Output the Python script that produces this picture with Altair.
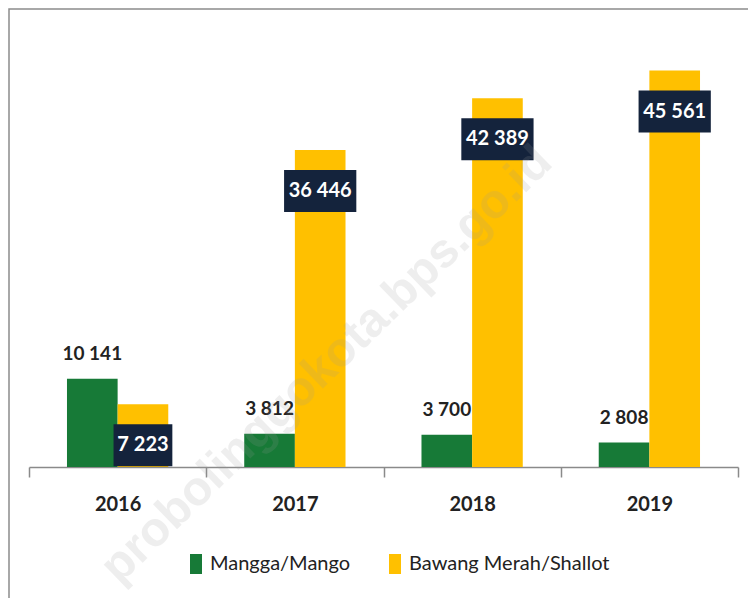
import altair as alt
import pandas as pd

years = ["2016", "2017", "2018", "2019"]
series = ["Mangga/Mango", "Bawang Merah/Shallot"]
mango = [10141, 3812, 3700, 2808]
shallot = [7223, 36446, 42389, 45561]
colors = ["#177A37", "#FFC000"]
watermark = "probolinggokota.bps.go.id"

rows = []
for y, m, s in zip(years, mango, shallot):
    rows.append({"year": y, "series": series[0], "value": m, "label": f"{m:,}".replace(",", " ")})
    rows.append({"year": y, "series": series[1], "value": s, "label": f"{s:,}".replace(",", " ")})
df = pd.DataFrame(rows)

FONT = "Lato, sans-serif"
W, H = 709, 435

x_enc = alt.X("year:N", sort=years, title=None,
              scale=alt.Scale(paddingInner=0, paddingOuter=0),
              axis=alt.Axis(labelAngle=0, tickBand="extent", ticks=True, tickSize=10,
                            tickColor="#8a8a8a", domainColor="#8a8a8a", domainWidth=1.5,
                            tickWidth=1.5, labelFont=FONT, labelFontSize=20,
                            labelFontWeight="bold", labelColor="#222222", labelPadding=17,
                            grid=False))
xo_enc = alt.XOffset("series:N", sort=series,
                     scale=alt.Scale(paddingInner=0, paddingOuter=0.75))
y_enc = alt.Y("value:Q", scale=alt.Scale(domain=[0, 50000]), axis=None)

base = alt.Chart(df).encode(x=x_enc, xOffset=xo_enc, y=y_enc)

bars = base.mark_bar().encode(
    color=alt.Color("series:N", sort=series,
                    scale=alt.Scale(domain=series, range=colors),
                    legend=alt.Legend(title=None, orient="none", direction="horizontal",
                                      legendX=157, legendY=522,
                                      symbolType="M-0.6,-1L0.6,-1L0.6,1L-0.6,1Z",
                                      symbolSize=400, symbolStrokeWidth=0,
                                      labelFont=FONT, labelFontSize=20, labelLimit=400,
                                      labelColor="#222222", labelOffset=4,
                                      columnPadding=34))
)

green_labels = base.transform_filter(alt.datum.series == series[0]).mark_text(
    dy=-25, font=FONT, fontSize=19, fontWeight="bold", color="#222222", baseline="middle"
).encode(text="label:N")

path4 = "M-1.4,-1L1.4,-1L1.4,1L-1.4,1Z"
path5 = "M-1.72,-1L1.72,-1L1.72,1L-1.72,1Z"
boxes = base.transform_filter(alt.datum.series == series[1]).mark_point(
    filled=True, fill="#14233C", opacity=1, size=1764, yOffset=41, strokeWidth=0
).encode(shape=alt.condition("datum.value < 10000", alt.value(path4), alt.value(path5)))

box_text = base.transform_filter(alt.datum.series == series[1]).mark_text(
    dy=41, font=FONT, fontSize=20, fontWeight="bold", color="white", baseline="middle"
).encode(text="label:N")

one = pd.DataFrame({"k": [0]})
frame = alt.Chart(one).mark_rect(fill="transparent", stroke="#8c8c8c", strokeWidth=1.5).encode(
    x=alt.value(-20), x2=alt.value(W + 60), y=alt.value(-23), y2=alt.value(H + 200)
)
wm = alt.Chart(one).mark_text(
    text=watermark, angle=316, font="Liberation Sans, Arial, sans-serif", fontSize=48,
    fontWeight="bold", fill="#9a9a9a", opacity=0.16
).encode(x=alt.value(298), y=alt.value(333))

chart = alt.layer(frame, bars, green_labels, boxes, box_text, wm).properties(
    width=W, height=H,
    autosize=alt.AutoSizeParams(type="none"),
    padding={"left": 21, "top": 24, "right": 10, "bottom": 131},
).configure_view(strokeWidth=0)

chart.save("out.html", embed_options={"renderer": "svg", "actions": False})
